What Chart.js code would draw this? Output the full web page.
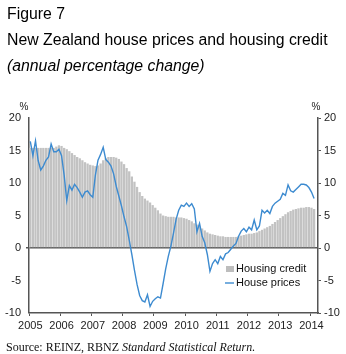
<!DOCTYPE html>
<html>
<head>
<meta charset="utf-8">
<script src="https://cdn.jsdelivr.net/npm/chart.js@4.4.1/dist/chart.umd.min.js"></script>
<style>
  html, body { margin: 0; padding: 0; background: #fff; }
  #wrap { position: relative; width: 346px; height: 354px; overflow: hidden; }
  #wrap canvas { position: absolute; left: 0; top: 0; }
  .txt { position: absolute; left: 7px; white-space: nowrap; color: #000;
         font-family: "Liberation Sans", Arial, sans-serif; font-size: 15.8px; line-height: 18px; }
  #src { position: absolute; left: 6px; top: 340px; white-space: nowrap; color: #111;
         font-family: "Liberation Serif", "DejaVu Serif", serif; font-size: 12px; line-height: 14px; }
</style>
</head>
<body>
<div id="wrap">
  <canvas id="myChart" width="346" height="354"></canvas>
  <div class="txt" style="top:5px">Figure 7</div>
  <div class="txt" style="top:31px">New Zealand house prices and housing credit</div>
  <div class="txt" style="top:57px;font-style:italic">(annual percentage change)</div>
  <div id="src">Source: REINZ, RBNZ <i>Standard Statistical Return.</i></div>
</div>
<script>
// monthly, Jan 2005 .. Mar 2014
const firstYear = 2005;
const nMonths = 111;

// housing credit, annual % change
const housingCredit = [
  15.4, 15.4, 15.4, 15.4, 15.4, 15.4, 15.4, 15.4, 15.4, 15.4, 15.6, 15.8,
  15.7, 15.4, 15.2, 14.9, 14.6, 14.3, 14.0, 13.8, 13.5, 13.2, 13.0, 12.8,
  12.7, 12.6, 12.7, 13.0, 13.5, 13.8, 14.0, 14.0, 14.0, 13.9, 13.7, 13.3,
  12.9, 12.3, 11.8, 11.0, 10.2, 9.4, 8.6, 8.0, 7.6, 7.3, 7.0, 6.6,
  6.2, 5.8, 5.3, 5.0, 4.9, 4.8, 4.8, 4.8, 4.7, 4.7, 4.7, 4.6,
  4.5, 4.3, 4.1, 3.8, 3.6, 3.3, 3.0, 2.7, 2.4, 2.2, 2.1, 2.0,
  1.9, 1.8, 1.8, 1.7, 1.7, 1.7, 1.7, 1.7, 1.8, 1.9, 2.0, 2.1,
  2.2, 2.2, 2.3, 2.4, 2.6, 2.8, 3.0, 3.2, 3.4, 3.7, 4.0, 4.3,
  4.6, 4.9, 5.2, 5.5, 5.7, 5.9, 6.0, 6.1, 6.2, 6.2, 6.3, 6.3,
  6.2, 6.0
];

// house prices, annual % change
const housePrices = [
  16.4, 14.2, 16.5, 13.5, 12.0, 12.6, 13.5, 14.0, 16.0, 14.8, 14.8, 15.2,
  14.2, 11.2, 7.3, 9.6, 8.9, 9.8, 9.3, 8.6, 7.8, 8.6, 8.8, 8.2,
  7.8, 11.2, 13.5, 14.4, 15.5, 13.6, 13.2, 12.6, 11.4, 9.5, 8.0, 6.5,
  4.8, 3.3, 1.2, -1.0, -3.4, -5.6, -7.3, -8.1, -8.3, -7.2, -9.0, -8.2,
  -7.8, -7.5, -7.7, -5.5, -3.2, -1.3, 0.3, 2.3, 4.4, 5.8, 6.6, 6.4,
  6.9, 6.4, 6.8, 6.0, 2.5, 3.8, 1.8, 0.8, -1.0, -3.6, -2.4, -1.8,
  -2.4, -1.3, -1.8, -0.9, -0.7, -0.2, 0.3, 0.7, 1.8, 2.6, 3.0, 2.5,
  3.2, 2.8, 4.3, 2.8, 3.4, 5.8, 5.4, 5.8, 5.3, 6.4, 6.9, 7.2,
  7.5, 8.4, 8.1, 9.7, 8.8, 8.6, 9.0, 9.4, 9.8, 9.8, 9.7, 9.3,
  8.6, 7.6
];

const yTicks = [-10, -5, 0, 5, 10, 15, 20];

const labels = [];
for (let i = 0; i < nMonths; i++) {
  labels.push((firstYear + Math.floor(i / 12)) + '-' + String(i % 12 + 1).padStart(2, '0'));
}

const axisCol = '#555';
const tickFont = { family: '"Liberation Sans", Arial, sans-serif', size: 11 };

// % labels over both axes and the little legend inside the plot
const extras = {
  id: 'extras',
  afterDraw(chart) {
    const c = chart.ctx, a = chart.chartArea;
    c.save();
    c.fillStyle = '#222';
    c.font = '10px "Liberation Sans", Arial, sans-serif';
    c.textAlign = 'center';
    c.textBaseline = 'middle';
    c.fillText('%', a.left - 5, a.top - 11);
    c.fillText('%', a.right - 2, a.top - 11);

    const lx = a.left + 197, ly = a.top + 151;
    c.fillStyle = '#bdbdbd';
    c.fillRect(lx, ly - 3, 8, 6);
    c.strokeStyle = '#3d8bd0';
    c.lineWidth = 1.4;
    c.beginPath();
    c.moveTo(lx - 1, ly + 14);
    c.lineTo(lx + 8, ly + 14);
    c.stroke();
    c.fillStyle = '#111';
    c.textAlign = 'left';
    c.font = '11px "Liberation Sans", Arial, sans-serif';
    c.fillText('Housing credit', lx + 10, ly);
    c.fillText('House prices', lx + 10, ly + 14);
    c.restore();
  }
};

const ctx = document.getElementById('myChart');

new Chart(ctx, {
  type: 'bar',
  data: {
    labels: labels,
    datasets: [{
      type: 'line',
      label: 'House prices',
      data: housePrices,
      borderColor: '#3d8bd0',
      backgroundColor: '#3d8bd0',
      borderWidth: 1.4,
      pointRadius: 0,
      tension: 0,
      yAxisID: 'y',
      order: 0
    }, {
      label: 'Housing credit',
      data: housingCredit,
      backgroundColor: '#c2c2c2',
      borderWidth: 0,
      barPercentage: 0.88,
      categoryPercentage: 1,
      yAxisID: 'y',
      order: 1
    }]
  },
  options: {
    responsive: false,
    animation: false,
    layout: { padding: { top: 118, left: 0, right: 0, bottom: 0 } },
    plugins: { legend: { display: false }, tooltip: { enabled: false } },
    scales: {
      x: {
        offset: true,
        grid: {
          offset: true,
          drawOnChartArea: false,
          tickLength: 3,
          tickColor: c => (c.index % 12 === 0 ? axisCol : 'rgba(0,0,0,0)')
        },
        border: { display: true, color: axisCol, width: 1.5 },
        ticks: {
          autoSkip: false,
          maxRotation: 0,
          padding: 3,
          color: '#222',
          font: tickFont,
          callback: (v, i) => (i % 12 === 0 ? String(firstYear + i / 12) : '')
        },
        afterFit: s => { s.height = 41; }
      },
      y: {
        position: 'left',
        min: -10,
        max: 20,
        afterBuildTicks: s => { s.ticks = yTicks.map(v => ({ value: v })); },
        grid: {
          color: c => (c.tick && c.tick.value === 0 ? axisCol : 'rgba(0,0,0,0)'),
          lineWidth: c => (c.tick && c.tick.value === 0 ? 1.5 : 0),
          tickColor: axisCol,
          tickLength: 3
        },
        border: { display: true, color: axisCol, width: 1.5 },
        ticks: { padding: 5, color: '#222', font: tickFont },
        afterFit: s => { s.width = 29; }
      },
      y2: {
        position: 'right',
        min: -10,
        max: 20,
        afterBuildTicks: s => { s.ticks = yTicks.map(v => ({ value: v })); },
        grid: { drawOnChartArea: false, tickColor: axisCol, tickLength: 3 },
        border: { display: true, color: axisCol, width: 1.5 },
        ticks: { padding: 3, color: '#222', font: tickFont },
        afterFit: s => { s.width = 28; }
      }
    }
  },
  plugins: [extras]
});
</script>
</body>
</html>
